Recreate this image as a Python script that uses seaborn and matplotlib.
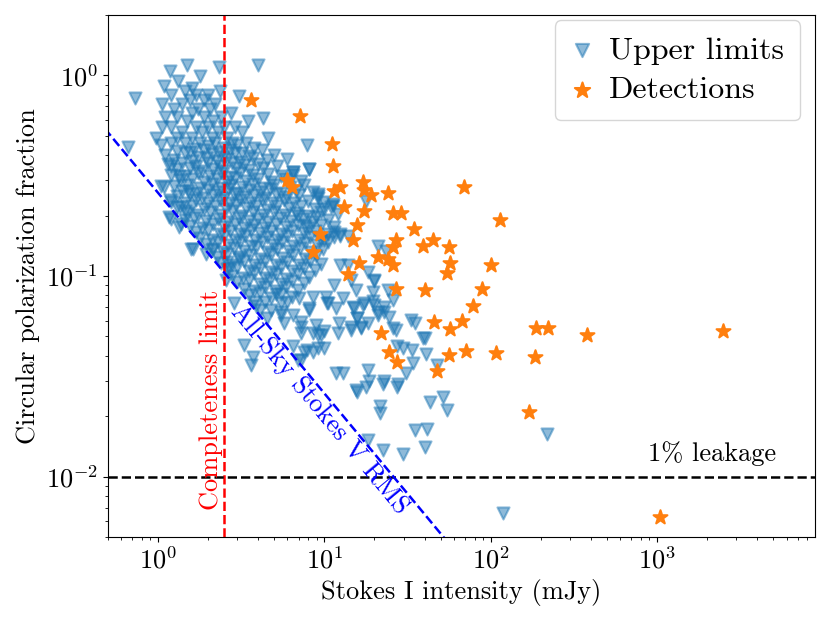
import matplotlib
matplotlib.use('Agg')
import numpy as np
import pandas as pd
import matplotlib.pyplot as plt
import seaborn as sns

# Detections (Stokes I in mJy, circular polarization fraction)
detections = [
    (3.6, 0.75), (7.1, 0.63), (11.1, 0.456), (11.2, 0.354), (6.0, 0.30), (6.4, 0.278),
    (11.4, 0.265), (12.5, 0.278), (17.0, 0.294), (17.2, 0.268), (19.2, 0.253), (24.0, 0.259),
    (13.1, 0.221), (17.2, 0.211), (25.7, 0.206), (28.7, 0.206), (69.5, 0.278), (113, 0.190),
    (15.8, 0.179), (34.8, 0.171), (9.4, 0.161), (14.8, 0.151), (26.8, 0.152), (44.7, 0.151),
    (39.4, 0.141), (56.5, 0.139), (26.0, 0.139), (8.6, 0.131), (20.9, 0.125), (24.0, 0.121),
    (26.0, 0.113), (16.1, 0.116), (57.3, 0.116), (54.9, 0.104), (13.8, 0.102), (101, 0.114),
    (26.8, 0.0866), (40.0, 0.0856), (89.1, 0.0866), (78.7, 0.0712), (45.9, 0.0591), (67.6, 0.0598),
    (57.3, 0.0546), (21.8, 0.0521), (24.3, 0.0418), (27.5, 0.0373), (56.5, 0.0404), (71.4, 0.0423),
    (107, 0.0414), (47.8, 0.0336), (188, 0.0552), (222, 0.0552), (380, 0.0509), (2480, 0.0533),
    (185, 0.0395), (171, 0.0209), (1040, 0.0063),
]

# Upper limits, grouped by polarization-fraction band
ul_top = [
    (1.49, 1.12), (4.0, 1.12), (2.32, 1.10), (1.18, 1.05), (1.79, 0.99), (1.32, 0.94), (1.09, 0.89),
    (1.6, 0.86), (2.35, 0.84), (1.45, 0.84), (1.2, 0.80), (1.7, 0.80), (2.0, 0.80), (3.06, 0.785),
    (0.73, 0.77), (1.55, 0.75), (1.9, 0.75), (1.05, 0.72), (1.4, 0.72), (2.2, 0.72), (1.25, 0.68),
    (1.75, 0.68), (2.05, 0.68), (2.74, 0.65), (1.6, 0.65), (1.3, 0.62), (1.9, 0.62), (2.4, 0.62),
    (1.1, 0.62), (4.27, 0.61), (3.46, 0.59), (1.5, 0.59), (2.15, 0.59), (1.2, 0.55), (1.7, 0.55),
    (2.0, 0.55), (2.5, 0.55), (2.9, 0.55), (1.05, 0.55), (1.4, 0.52), (1.85, 0.52), (2.3, 0.52),
    (3.2, 0.52), (0.97, 0.49), (1.6, 0.49), (2.1, 0.49), (2.6, 0.49), (4.57, 0.49), (1.3, 0.49),
    (1.45, 0.46), (1.8, 0.46), (2.2, 0.46), (2.8, 0.46), (3.4, 0.46), (1.2, 0.46), (7.9, 0.45),
]
ul_upper = [
    (0.66, 0.44), (1.04, 0.45), (1.65, 0.43), (2.0, 0.447), (2.5, 0.432), (3.0, 0.452), (3.8, 0.436),
    (1.3, 0.42), (1.55, 0.413), (1.9, 0.427), (2.3, 0.415), (2.7, 0.424), (3.2, 0.411), (4.2, 0.425),
    (1.1, 0.40), (1.45, 0.408), (1.75, 0.394), (2.1, 0.405), (2.45, 0.392), (2.9, 0.41), (3.5, 0.396), (5.0, 0.403),
    (1.25, 0.38), (1.6, 0.374), (1.95, 0.387), (2.25, 0.376), (2.6, 0.385), (3.1, 0.372), (3.7, 0.388),
    (4.5, 0.377), (6.0, 0.383),
    (1.15, 0.36), (1.4, 0.367), (1.7, 0.355), (2.0, 0.364), (2.35, 0.352), (2.8, 0.366), (3.3, 0.356),
    (4.0, 0.362), (5.2, 0.354),
    (1.3, 0.34), (1.55, 0.346), (1.85, 0.334), (2.15, 0.343), (2.5, 0.335), (2.95, 0.347), (3.5, 0.337),
    (4.3, 0.344), (8.05, 0.34),
    (1.2, 0.32), (1.45, 0.314), (1.75, 0.326), (2.05, 0.316), (2.4, 0.325), (2.7, 0.313), (3.1, 0.327),
    (3.7, 0.317), (4.6, 0.323), (5.5, 0.315), (6.5, 0.32), (6.45, 0.33),
]
ul_core = [
    (1.35, 0.30), (1.6, 0.306), (1.9, 0.295), (2.25, 0.304), (2.6, 0.293), (2.9, 0.307), (3.4, 0.297),
    (4.0, 0.303), (4.8, 0.294), (5.8, 0.305), (7.2, 0.298),
    (1.25, 0.28), (1.5, 0.285), (1.8, 0.276), (2.1, 0.287), (2.4, 0.274), (2.75, 0.284), (3.2, 0.277),
    (3.7, 0.286), (4.3, 0.275), (5.0, 0.283), (6.2, 0.278), (7.5, 0.284),
    (1.4, 0.265), (1.7, 0.26), (2.0, 0.269), (2.3, 0.261), (2.65, 0.27), (3.0, 0.259), (3.5, 0.268),
    (4.1, 0.262), (4.7, 0.27), (5.5, 0.26), (6.8, 0.266), (8.5, 0.262),
    (1.3, 0.25), (1.55, 0.255), (1.85, 0.246), (2.15, 0.254), (2.5, 0.245), (2.85, 0.256), (3.3, 0.247),
    (3.8, 0.253), (4.4, 0.244), (5.1, 0.255), (6.0, 0.248), (7.0, 0.252), (9.2, 0.246),
    (1.2, 0.235), (1.45, 0.231), (1.7, 0.239), (2.0, 0.232), (2.35, 0.24), (2.7, 0.23), (3.1, 0.238),
    (3.6, 0.231), (4.2, 0.239), (4.9, 0.232), (5.7, 0.238), (6.6, 0.23), (8.0, 0.237), (10.0, 0.233),
    (1.35, 0.22), (1.6, 0.224), (1.9, 0.216), (2.2, 0.223), (2.55, 0.215), (2.95, 0.225), (3.4, 0.217),
    (3.9, 0.222), (4.5, 0.214), (5.2, 0.224), (6.1, 0.218), (7.2, 0.223), (8.8, 0.216), (11.0, 0.221),
    (1.5, 0.205), (1.75, 0.201), (2.05, 0.209), (2.4, 0.202), (2.8, 0.21), (3.2, 0.2), (3.7, 0.208),
    (4.3, 0.201), (5.0, 0.209), (5.8, 0.202), (6.8, 0.207), (8.0, 0.2), (9.5, 0.208), (12.0, 0.203),
    (1.45, 0.19), (1.65, 0.194), (1.95, 0.187), (2.3, 0.193), (2.65, 0.186), (3.05, 0.195), (3.5, 0.188),
    (4.0, 0.192), (4.6, 0.185), (5.4, 0.194), (6.3, 0.189), (7.4, 0.193), (8.6, 0.186), (10.5, 0.191),
    (1.55, 0.178), (1.85, 0.174), (2.15, 0.181), (2.5, 0.175), (2.9, 0.182), (3.3, 0.173), (3.8, 0.18),
    (4.4, 0.174), (5.1, 0.181), (5.9, 0.175), (6.9, 0.18), (8.1, 0.173), (9.6, 0.179), (11.5, 0.176),
    (1.7, 0.165), (2.0, 0.169), (2.35, 0.162), (2.7, 0.168), (3.1, 0.161), (3.6, 0.169), (4.1, 0.163),
    (4.8, 0.167), (5.5, 0.161), (6.4, 0.168), (7.5, 0.163), (8.8, 0.167), (10.5, 0.162),
    (1.8, 0.155), (2.1, 0.151), (2.5, 0.158), (2.9, 0.152), (3.35, 0.159), (3.85, 0.151), (4.5, 0.157),
    (5.2, 0.152), (6.0, 0.158), (7.0, 0.151), (8.2, 0.157), (9.6, 0.152), (11.5, 0.156),
]
ul_mid = [
    (1.95, 0.145), (2.3, 0.148), (2.65, 0.142), (3.1, 0.147), (3.6, 0.141), (4.2, 0.148), (4.9, 0.143),
    (5.6, 0.147), (6.5, 0.141), (7.6, 0.146), (9.0, 0.142), (10.5, 0.147),
    (2.1, 0.135), (2.45, 0.132), (2.85, 0.138), (3.3, 0.133), (3.9, 0.139), (4.5, 0.132), (5.2, 0.137),
    (6.1, 0.133), (7.1, 0.138), (8.3, 0.132), (9.8, 0.136),
    (2.25, 0.125), (2.6, 0.128), (3.05, 0.122), (3.55, 0.127), (4.1, 0.121), (4.8, 0.128), (5.6, 0.123),
    (6.5, 0.127), (7.6, 0.122), (8.9, 0.126),
    (2.4, 0.116), (2.8, 0.113), (3.3, 0.119), (3.8, 0.114), (4.4, 0.119), (5.1, 0.113), (6.0, 0.118),
    (7.0, 0.114), (8.2, 0.119), (9.6, 0.115),
    (2.6, 0.108), (3.0, 0.111), (3.5, 0.106), (4.1, 0.11), (4.8, 0.105), (5.5, 0.111), (6.4, 0.106),
    (7.5, 0.11), (8.8, 0.107),
    (2.8, 0.100), (3.25, 0.098), (3.8, 0.103), (4.4, 0.098), (5.1, 0.102), (5.9, 0.097), (6.9, 0.102), (8.1, 0.099),
    (3.0, 0.093), (3.5, 0.095), (4.1, 0.091), (4.7, 0.095), (5.5, 0.091), (6.4, 0.094), (7.5, 0.092),
    (3.3, 0.086), (3.8, 0.084), (4.4, 0.088), (5.1, 0.084), (5.9, 0.088), (6.9, 0.085),
    (3.5, 0.080), (4.1, 0.082), (4.8, 0.078), (5.5, 0.081), (6.4, 0.079),
    (3.8, 0.074), (4.4, 0.074), (6.0, 0.074), (4.1, 0.068), (4.8, 0.068), (4.5, 0.062),
]
# sources close to (or just below) the all-sky RMS line
ul_edge = [
    (1.09, 0.278), (1.04, 0.28), (1.2, 0.354), (1.34, 0.315), (1.51, 0.265), (1.18, 0.24),
    (1.16, 0.196), (1.2, 0.192), (1.3, 0.22), (1.34, 0.175), (1.37, 0.181), (1.45, 0.21),
    (1.58, 0.136), (1.62, 0.136), (1.94, 0.128), (2.13, 0.136), (2.6, 0.118), (2.67, 0.11),
    (2.56, 0.096), (2.86, 0.0736), (3.87, 0.0705), (3.28, 0.0455), (3.6, 0.0362), (3.72, 0.0395),
    (5.47, 0.064), (5.47, 0.0735), (5.1, 0.081), (7.2, 0.052), (7.9, 0.043), (7.2, 0.038),
    (9.1, 0.051), (9.2, 0.044), (6.9, 0.038), (7.5, 0.042), (8.6, 0.042), (9.9, 0.044), (6.5, 0.045),
    (3.06, 0.125),
]
# sparse sources at the bright end of the cloud
ul_sparse = [
    (6.45, 0.33), (8.05, 0.34), (9.1, 0.25), (9.2, 0.256), (11.2, 0.228), (9.9, 0.215), (11.2, 0.223),
    (17.7, 0.236), (6.92, 0.199), (7.7, 0.177), (8.9, 0.197), (11.4, 0.165), (12.5, 0.161), (9.9, 0.152),
    (12.5, 0.158), (13.8, 0.158), (12.5, 0.114), (13.8, 0.114), (20.9, 0.141), (23.4, 0.133),
    (18.2, 0.105), (19.8, 0.094), (19.8, 0.096), (19.5, 0.0835), (24.0, 0.0856), (17.2, 0.0735),
    (19.8, 0.0719), (22.7, 0.070), (15.4, 0.0856), (14.4, 0.096), (11.4, 0.0905), (10.2, 0.079),
    (10.4, 0.0735), (8.5, 0.079), (8.05, 0.068), (7.2, 0.059), (8.9, 0.057), (6.45, 0.064), (5.5, 0.066),
    (5.7, 0.0586), (15.0, 0.0695), (15.8, 0.0619), (18.2, 0.0586), (20.9, 0.064), (9.5, 0.051),
    (12.0, 0.0521), (14.4, 0.054), (16.5, 0.056), (24.3, 0.0625), (7.0, 0.078), (8.05, 0.0695),
    (10.5, 0.0735), (11.7, 0.0695), (13.0, 0.078), (14.8, 0.070), (15.8, 0.062), (17.0, 0.072),
    (19.5, 0.075), (20.9, 0.066), (22.7, 0.066), (26.0, 0.076), (7.2, 0.056), (8.6, 0.052),
    (9.9, 0.053), (12.2, 0.058), (14.4, 0.056), (16.5, 0.055), (33.0, 0.0606), (35.3, 0.0586),
    (26.0, 0.055), (39.4, 0.049), (27.5, 0.045), (29.5, 0.044), (33.8, 0.043), (41.0, 0.041),
    (34.2, 0.037), (30.8, 0.033), (47.6, 0.036), (22.7, 0.030), (27.9, 0.029), (26.8, 0.054),
    (40.5, 0.049), (11.7, 0.033), (13.0, 0.033), (15.8, 0.0264), (17.7, 0.028), (18.5, 0.030),
    (18.3, 0.034), (22.4, 0.029), (27.5, 0.028), (15.4, 0.027), (18.2, 0.0152), (22.4, 0.0135),
    (29.5, 0.013), (21.7, 0.0226), (21.7, 0.0207), (35.3, 0.017), (41.6, 0.0173), (40.4, 0.014),
    (43.4, 0.0236), (51.9, 0.0249), (54.3, 0.0214), (119, 0.0066), (219, 0.0164),
]

rms_mjy = 0.26          # all-sky Stokes V rms
completeness_mjy = 2.5
leakage = 0.01

ul = pd.DataFrame(ul_top + ul_upper + ul_core + ul_mid + ul_edge + ul_sparse, columns=['flux', 'frac'])
det = pd.DataFrame(detections, columns=['flux', 'frac'])

plt.rcParams['font.family'] = ['cmr10', 'DejaVu Serif']
plt.rcParams['mathtext.fontset'] = 'cm'
plt.rcParams['axes.formatter.use_mathtext'] = True

fig, ax = plt.subplots(figsize=(8.3, 6.23), dpi=100)
fig.subplots_adjust(left=0.130, right=0.982, top=0.976, bottom=0.138)
ax.set_xscale('log')
ax.set_yscale('log')
ax.set_xlim(0.5, 8900)
ax.set_ylim(0.005, 2)

sns.scatterplot(data=ul, x='flux', y='frac', ax=ax, marker='v', color='C0', alpha=0.5,
                s=75, edgecolor='face', linewidth=1.5, label='Upper limits')
sns.scatterplot(data=det, x='flux', y='frac', ax=ax, marker='*', color='C1',
                s=110, edgecolor='face', linewidth=1.5, label='Detections')

ax.axvline(completeness_mjy, color='red', ls='--', lw=1.8)
ax.axhline(leakage, color='black', ls='--', lw=1.8)
xr = np.array([0.3, 200.0])
ax.plot(xr, rms_mjy / xr, color='blue', ls='--', lw=1.8)

# angle of the rms line on screen
p1 = ax.transData.transform((1.0, rms_mjy))
p2 = ax.transData.transform((10.0, rms_mjy / 10.0))
ang = np.degrees(np.arctan2(p2[1] - p1[1], p2[0] - p1[0]))

ax.text(2.1, 0.024, 'Completeness limit', color='red', rotation=90,
        ha='center', va='center', fontsize=19)
ax.text(9.4, 0.0216, 'All-Sky Stokes V RMS', color='blue', rotation=ang,
        rotation_mode='anchor', ha='center', va='center', fontsize=19)
ax.text(2134, 0.0130, '1% leakage', ha='center', va='center', fontsize=19)

ax.set_xlabel('Stokes I intensity (mJy)', fontsize=19)
ax.set_ylabel('Circular polarization fraction', fontsize=19)
ax.tick_params(labelsize=19)
ax.legend(loc='upper right', bbox_to_anchor=(0.979, 0.990), borderaxespad=0,
          fontsize=23, borderpad=0.5, handlelength=0.7, handletextpad=0.5,
          labelspacing=0.35, markerscale=1.1)

fig.savefig('out.png', dpi=100)
